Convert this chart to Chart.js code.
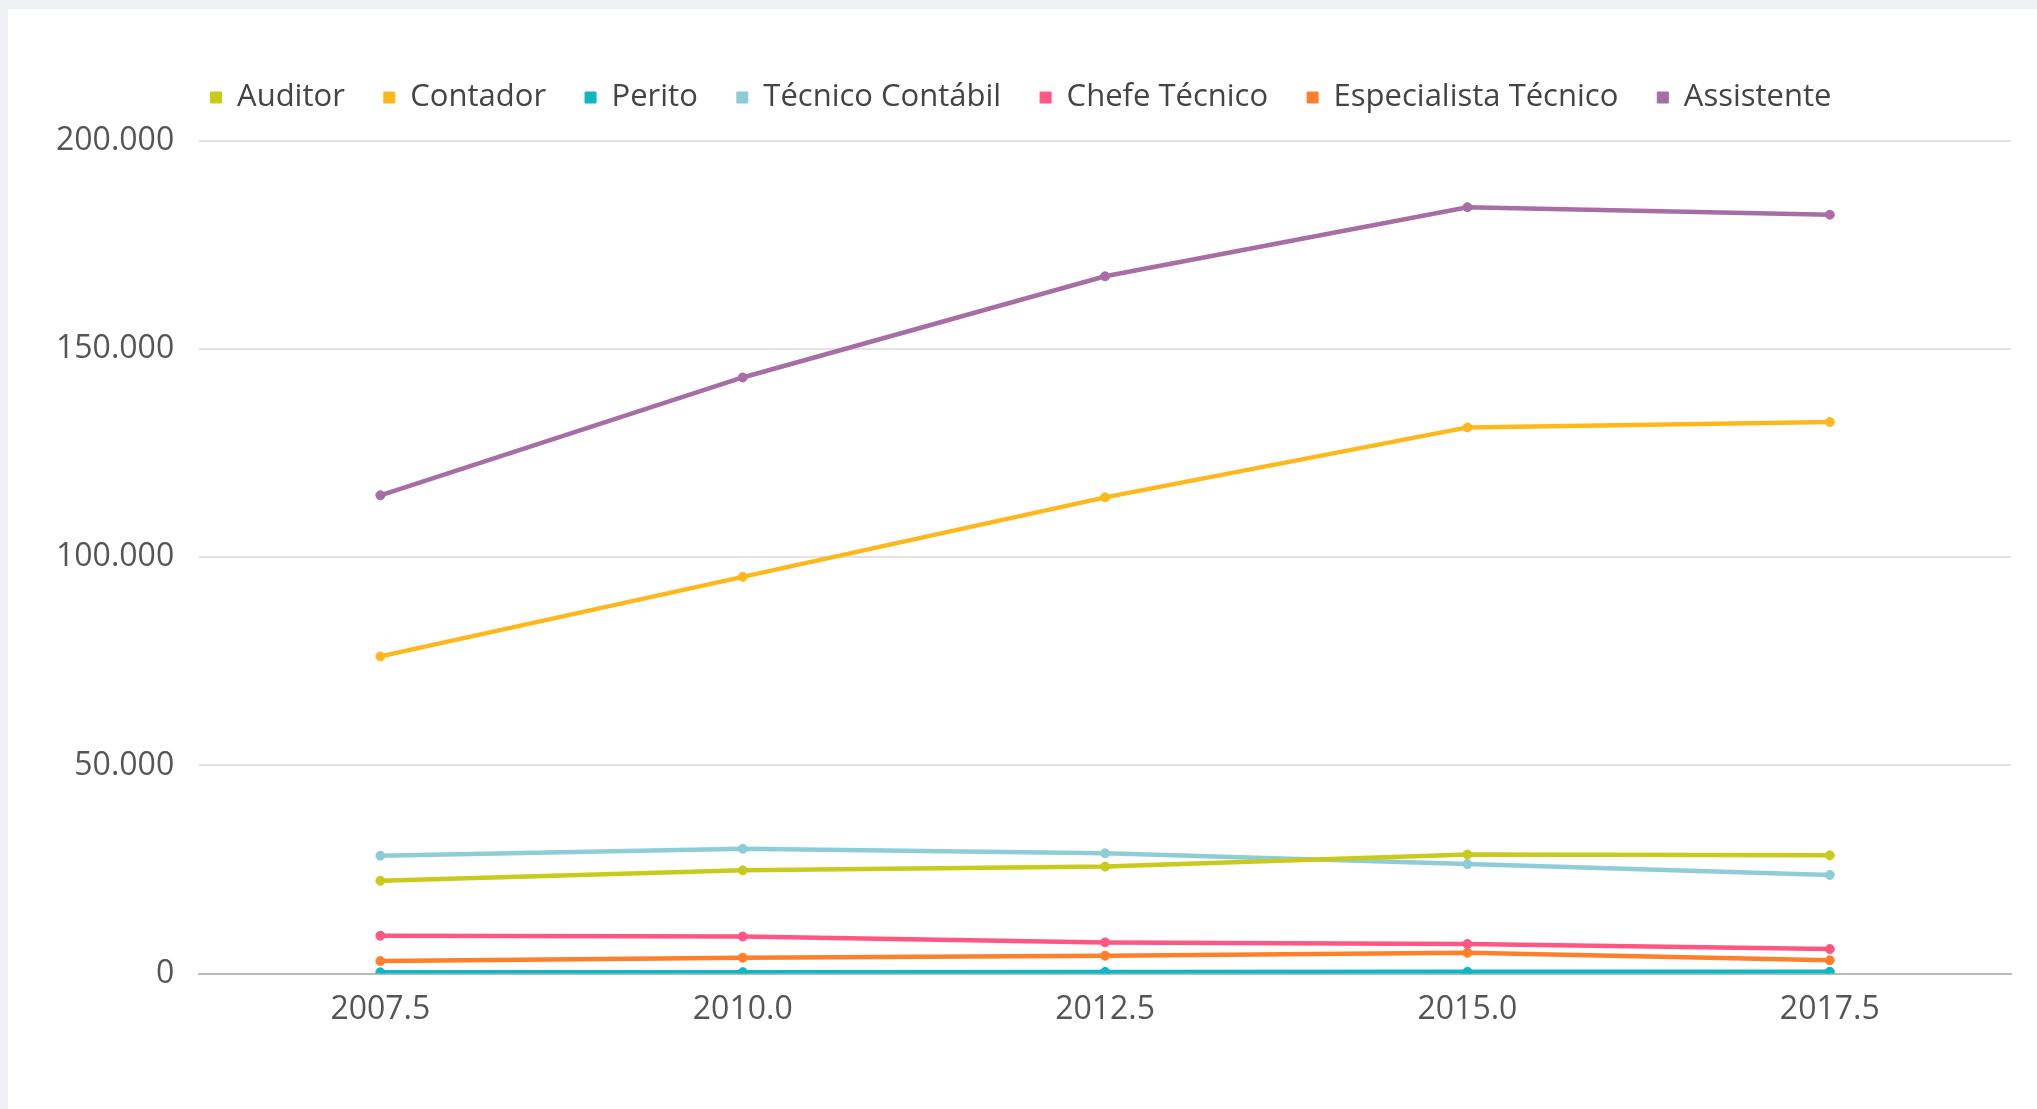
<!DOCTYPE html>
<html>
<head>
<meta charset="utf-8">
<script src="https://cdn.jsdelivr.net/npm/chart.js@4/dist/chart.umd.min.js"></script>
<style>
  html, body { margin: 0; padding: 0; background: #eef0f3; width: 2037px; height: 1109px; overflow: hidden; }
  #card { position: absolute; left: 8px; top: 9px; width: 2029px; height: 1100px; background: #ffffff; }
  #c { display: block; }
</style>
</head>
<body>
<div id="card"><canvas id="c" width="2029" height="1100"></canvas></div>
<script>
const categories = ['2007.5', '2010.0', '2012.5', '2015.0', '2017.5'];
const seriesNames = ['Auditor', 'Contador', 'Perito', 'Técnico Contábil', 'Chefe Técnico', 'Especialista Técnico', 'Assistente'];
const auditor      = [22300, 24800, 25700, 28600, 28400];
const contador     = [76200, 95300, 114400, 131200, 132500];
const perito       = [300, 350, 400, 450, 450];
const tecnico      = [28300, 30000, 28900, 26300, 23700];
const chefe        = [9100, 8900, 7500, 7100, 5900];
const especialista = [3000, 3800, 4300, 5000, 3200];
const assistente   = [114900, 143200, 167500, 184100, 182300];
const yTicks = [0, 50000, 100000, 150000, 200000];

const colors = ['#c9cb1c', '#ffb81c', '#0fb6c4', '#8ecdd8', '#ff5784', '#ff7f2a', '#a66ea4'];
const values = [auditor, contador, perito, tecnico, chefe, especialista, assistente];

function fmt(v) {
  return String(v).replace(/\B(?=(\d{3})+(?!\d))/g, '.');
}

const FONT = "'Open Sans', 'DejaVu Sans', sans-serif";

const legendHeightPlugin = {
  id: 'legendHeight',
  beforeInit(chart) {
    const lg = chart.legend;
    if (!lg) return;
    const orig = lg.fit;
    lg.fit = function () {
      orig.call(this);
      this.height = 98;
    };
  }
};

new Chart(document.getElementById('c'), {
  type: 'line',
  data: {
    labels: categories,
    datasets: seriesNames.map((name, i) => ({
      label: name,
      data: values[i],
      borderColor: colors[i],
      backgroundColor: colors[i],
      borderWidth: 4.5,
      pointRadius: 4.5,
      pointBorderWidth: 1,
      pointBackgroundColor: colors[i],
      pointBorderColor: colors[i],
      pointStyle: 'circle',
      tension: 0,
      fill: false
    }))
  },
  options: {
    responsive: false,
    animation: false,
    layout: { padding: { left: 23, right: 26, top: 34, bottom: 63 } },
    plugins: {
      legend: {
        position: 'top',
        align: 'center',
        labels: {
          usePointStyle: true,
          pointStyle: 'rect',
          boxWidth: 11,
          boxHeight: 11,
          padding: 39,
          color: '#444444',
          font: { family: FONT, size: 31 }
        }
      },
      tooltip: { enabled: false }
    },
    scales: {
      x: {
        type: 'category',
        offset: true,
        grid: { display: false, drawTicks: false },
        border: { display: true, color: '#bbbbbb', width: 2 },
        ticks: { color: '#555555', padding: 17, font: { family: FONT, size: 32 } }
      },
      y: {
        min: 0,
        max: 200000,
        afterBuildTicks(axis) { axis.ticks = yTicks.map(v => ({ value: v })); },
        grid: { color: '#e3e3e3', lineWidth: 2, drawTicks: false },
        border: { display: false },
        ticks: {
          color: '#555555',
          padding: 25,
          font: { family: FONT, size: 32 },
          callback: (v) => fmt(v)
        }
      }
    }
  },
  plugins: [legendHeightPlugin]
});
</script>
</body>
</html>
